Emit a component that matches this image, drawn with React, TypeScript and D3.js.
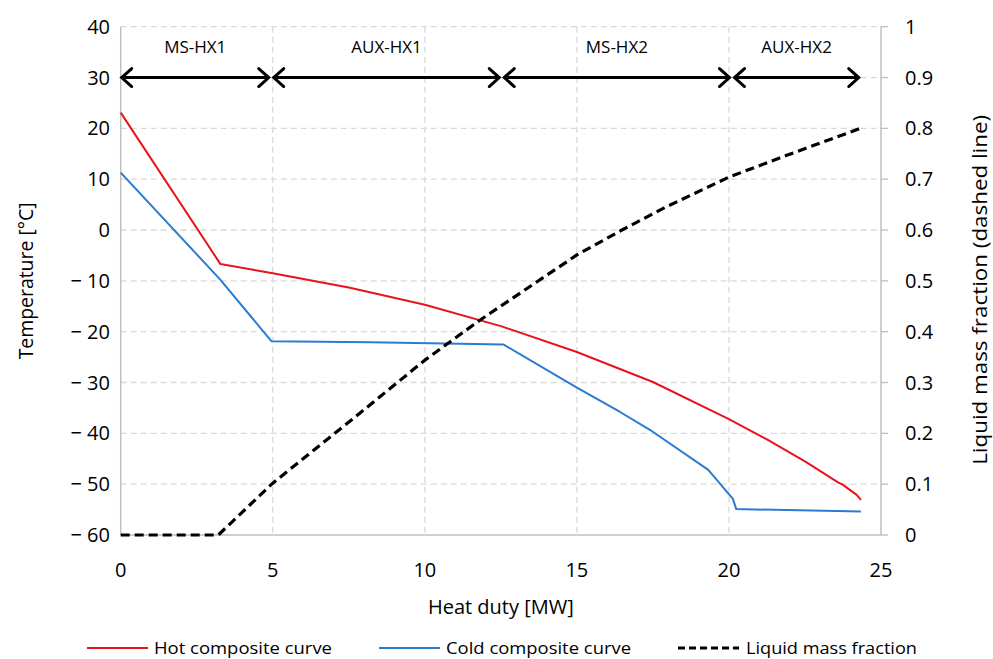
import React from "react";
import * as d3 from "d3";

// ---- data ----
const hotQ = [0, 3.28, 5, 7.5, 10, 12.5, 15, 17.5, 20, 21.25, 22.5, 23.6, 23.74, 24.2, 24.34];
const hotT = [23.1, -6.7, -8.5, -11.3, -14.7, -18.9, -24.0, -29.9, -37.2, -41.2, -45.5, -49.7, -50.1, -52.1, -53.1];

const coldQ = [0, 3.28, 4.96, 8.2, 12.58, 15, 16.42, 17.4, 19.32, 20.13, 20.24, 24.34];
const coldT = [11.3, -9.8, -21.9, -22.1, -22.5, -31.0, -35.8, -39.3, -47.2, -52.9, -54.9, -55.4];

const liqQ = [0, 3.21, 5, 7.87, 10, 11.82, 15, 16.42, 17.95, 20, 21.9, 24.37];
const liqF = [0, 0, 0.102, 0.24, 0.344, 0.423, 0.551, 0.598, 0.646, 0.704, 0.747, 0.801];

const sectionNames = ["MS-HX1", "AUX-HX1", "MS-HX2", "AUX-HX2"];
const sectionStart = [0, 5.0, 12.58, 20.15];
const sectionEnd = [4.9, 12.48, 20.05, 24.3];
const arrowLevel = 30;
const labelLevel = 36;

const xTicks = [0, 5, 10, 15, 20, 25];
const yLeftTicks = [40, 30, 20, 10, 0, -10, -20, -30, -40, -50, -60];
const yRightTicks = [0, 0.1, 0.2, 0.3, 0.4, 0.5, 0.6, 0.7, 0.8, 0.9, 1];

const legendLabels = ["Hot composite curve", "Cold composite curve", "Liquid mass fraction"];

// ---- layout ----
const W = 993;
const H = 659;
const X0 = 120.7;
const X1 = 881;
const Y0 = 535;
const Y1 = 26.7;
const FONT = "'Open Sans', 'DejaVu Sans', sans-serif";
const RED = "#e8141c";
const BLUE = "#2a7bd2";
const GRID = "#d9d9d9";
const AXIS = "#bfbfbf";

const fmtLeft = (v: number) => (v < 0 ? "\u2212 " + Math.abs(v) : String(v));

export default function App() {
  const x = d3.scaleLinear().domain([0, 25]).range([X0, X1]);
  const yL = d3.scaleLinear().domain([-60, 40]).range([Y0, Y1]);
  const yR = d3.scaleLinear().domain([0, 1]).range([Y0, Y1]);

  const lineL = d3
    .line<[number, number]>()
    .x((d) => x(d[0]))
    .y((d) => yL(d[1]));
  const lineR = d3
    .line<[number, number]>()
    .x((d) => x(d[0]))
    .y((d) => yR(d[1]));

  const hot = hotQ.map((q, i) => [q, hotT[i]] as [number, number]);
  const cold = coldQ.map((q, i) => [q, coldT[i]] as [number, number]);
  const liq = liqQ.map((q, i) => [q, liqF[i]] as [number, number]);

  const ay = yL(arrowLevel);
  const ah = 11; // arrowhead length
  const aw = 9; // half height

  const legendLineX = [87, 379, 678];
  const legendTextX = [154, 446, 746];
  const legendTextW = [178, 185, 171];
  const legendY = 648;

  return (
    <div style={{ position: "absolute", left: 0, top: 0 }}>
      <svg width={W} height={H} style={{ display: "block", background: "#fff" }}>
        {/* horizontal gridlines */}
        {yLeftTicks
          .filter((t) => t > -60)
          .map((t) => (
            <line
              key={"hg" + t}
              x1={X0}
              x2={X1}
              y1={yL(t)}
              y2={yL(t)}
              stroke={GRID}
              strokeWidth={1.3}
              strokeDasharray="6,4"
            />
          ))}
        {/* vertical gridlines */}
        {xTicks
          .filter((t) => t > 0 && t < 25)
          .map((t) => (
            <line
              key={"vg" + t}
              x1={x(t)}
              x2={x(t)}
              y1={Y1}
              y2={Y0}
              stroke={GRID}
              strokeWidth={1.3}
              strokeDasharray="6,4"
            />
          ))}
        {/* axes */}
        <line x1={X0} x2={X0} y1={Y1} y2={Y0} stroke={AXIS} strokeWidth={1.5} />
        <line x1={X0} x2={X1} y1={Y0} y2={Y0} stroke={AXIS} strokeWidth={1.5} />
        <line x1={X1} x2={X1} y1={Y1} y2={Y0} stroke={AXIS} strokeWidth={1.5} />
        {yRightTicks.map((t) => (
          <line key={"rt" + t} x1={X1} x2={X1 + 7} y1={yR(t)} y2={yR(t)} stroke={AXIS} strokeWidth={1.3} />
        ))}

        {/* tick labels */}
        {yLeftTicks.map((t) => (
          <text
            key={"lt" + t}
            x={110}
            y={yL(t)}
            dy="0.35em"
            textAnchor="end"
            fontFamily={FONT}
            fontSize={20}
            fill="#000"
          >
            {fmtLeft(t)}
          </text>
        ))}
        {yRightTicks.map((t) => (
          <text
            key={"rl" + t}
            x={905}
            y={yR(t)}
            dy="0.35em"
            textAnchor="start"
            fontFamily={FONT}
            fontSize={20}
            fill="#000"
          >
            {String(Math.round(t * 10) / 10)}
          </text>
        ))}
        {xTicks.map((t) => (
          <text
            key={"xt" + t}
            x={x(t)}
            y={577}
            textAnchor="middle"
            fontFamily={FONT}
            fontSize={20}
            fill="#000"
          >
            {t}
          </text>
        ))}

        {/* axis titles */}
        <text
          x={(X0 + X1) / 2}
          y={614}
          textAnchor="middle"
          fontFamily={FONT}
          fontSize={20}
          fill="#000"
        >
          Heat duty [MW]
        </text>
        <text
          transform={`translate(33,${(Y0 + Y1) / 2}) rotate(-90)`}
          textAnchor="middle"
          fontFamily={FONT}
          fontSize={20}
          textLength={157}
          lengthAdjust="spacingAndGlyphs"
          fill="#000"
        >
          Temperature [°C]
        </text>
        <text
          transform={`translate(987,${(Y0 + Y1) / 2 + 9}) rotate(-90)`}
          textAnchor="middle"
          fontFamily={FONT}
          fontSize={20}
          textLength={350}
          lengthAdjust="spacingAndGlyphs"
          fill="#000"
        >
          Liquid mass fraction (dashed line)
        </text>

        {/* section arrows */}
        {sectionNames.map((name, i) => {
          const xa = x(sectionStart[i]);
          const xb = x(sectionEnd[i]);
          return (
            <g key={name}>
              <line x1={xa + 1} x2={xb - 1} y1={ay} y2={ay} stroke="#000" strokeWidth={3} />
              <polyline
                points={`${xa + ah},${ay - aw} ${xa + 1},${ay} ${xa + ah},${ay + aw}`}
                fill="none"
                stroke="#000"
                strokeWidth={3}
                strokeLinecap="round"
                strokeLinejoin="miter"
              />
              <polyline
                points={`${xb - ah},${ay - aw} ${xb - 1},${ay} ${xb - ah},${ay + aw}`}
                fill="none"
                stroke="#000"
                strokeWidth={3}
                strokeLinecap="round"
                strokeLinejoin="miter"
              />
              <text
                x={(xa + xb) / 2}
                y={yL(labelLevel)}
                dy="0.35em"
                textAnchor="middle"
                fontFamily={FONT}
                fontSize={17}
                fill="#000"
              >
                {name}
              </text>
            </g>
          );
        })}

        {/* data lines */}
        <path d={lineL(hot) || ""} fill="none" stroke={RED} strokeWidth={2} strokeLinejoin="round" />
        <path d={lineL(cold) || ""} fill="none" stroke={BLUE} strokeWidth={2} strokeLinejoin="round" />
        <path
          d={lineR(liq) || ""}
          fill="none"
          stroke="#000"
          strokeWidth={3.2}
          strokeDasharray="9,5"
          strokeLinejoin="round"
        />

        {/* legend */}
        <line x1={legendLineX[0]} x2={legendLineX[0] + 61} y1={legendY} y2={legendY} stroke={RED} strokeWidth={2.2} />
        <line x1={legendLineX[1]} x2={legendLineX[1] + 61} y1={legendY} y2={legendY} stroke={BLUE} strokeWidth={2.2} />
        <line
          x1={legendLineX[2]}
          x2={legendLineX[2] + 61}
          y1={legendY}
          y2={legendY}
          stroke="#000"
          strokeWidth={3}
          strokeDasharray="7,4"
        />
        {legendLabels.map((lab, i) => (
          <text
            key={lab}
            x={legendTextX[i]}
            y={legendY}
            dy="0.35em"
            fontFamily={FONT}
            fontSize={17}
            textLength={legendTextW[i]}
            lengthAdjust="spacingAndGlyphs"
            fill="#000"
          >
            {lab}
          </text>
        ))}
      </svg>
    </div>
  );
}
